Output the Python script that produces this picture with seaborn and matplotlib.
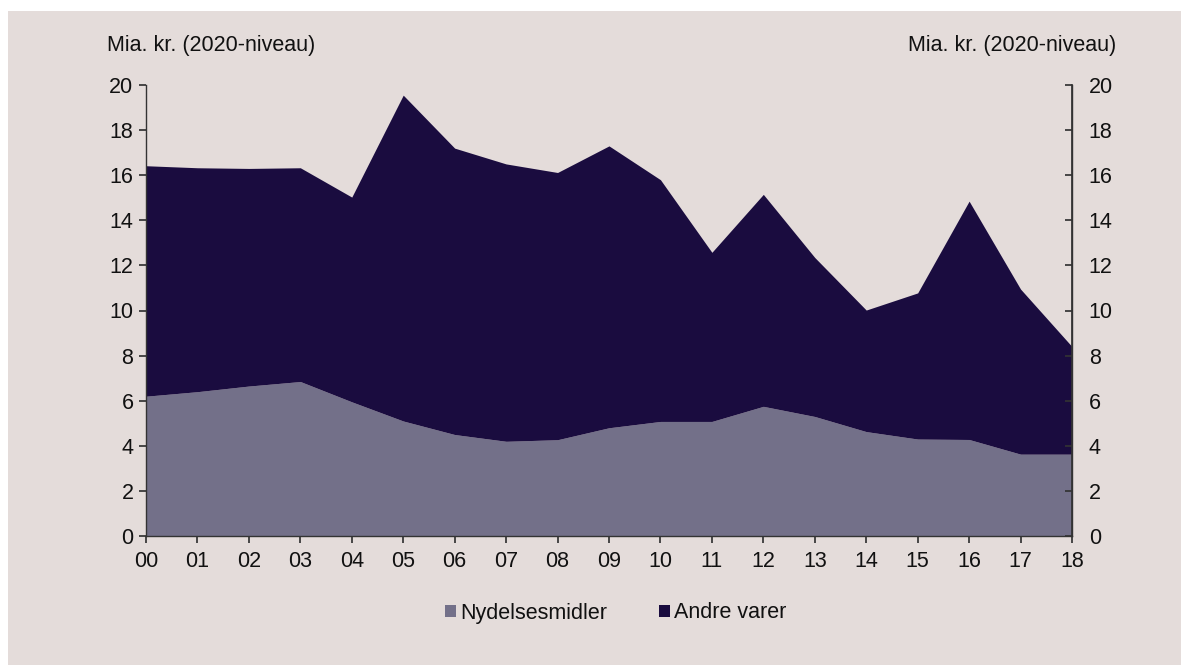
"""
Stacked area: Nydelsesmidler and Andre varer, 2000-2018
"""

from matplotlib import pyplot as plt
from matplotlib.patches import Rectangle
import seaborn as sns

years = ["00", "01", "02", "03", "04", "05", "06", "07", "08", "09",
         "10", "11", "12", "13", "14", "15", "16", "17", "18"]
nydelsesmidler = [6.2, 6.4, 6.65, 6.85, 5.95, 5.1, 4.5, 4.2, 4.27, 4.8,
                  5.08, 5.08, 5.75, 5.3, 4.63, 4.3, 4.28, 3.63, 3.63]
total = [16.42, 16.33, 16.3, 16.33, 15.03, 19.55, 17.2, 16.5, 16.12, 17.3,
         15.8, 12.58, 15.15, 12.35, 10.02, 10.78, 14.85, 10.95, 8.4]
andre_varer = [t - n for t, n in zip(total, nydelsesmidler)]

BG = "#e4dcda"
C_NYD = "#737089"
C_ANDRE = "#1a0c3f"
FS = 15.5

sns.set_theme(style="ticks")
plt.rcParams["font.family"] = ["Liberation Sans", "DejaVu Sans"]

fig = plt.figure(figsize=(11.81, 6.65), dpi=100, facecolor="white")
fig.patches.append(Rectangle((8 / 1181, 0), 1, 1 - 11 / 665,
                             transform=fig.transFigure, facecolor=BG,
                             edgecolor="none", zorder=-10))
ax = fig.add_axes([146 / 1181, 1 - 536 / 665, 926 / 1181, 451 / 665])
ax.set_facecolor(BG)

x = list(range(len(years)))
ax.stackplot(x, nydelsesmidler, andre_varer, colors=[C_NYD, C_ANDRE],
             labels=["Nydelsesmidler", "Andre varer"], linewidth=0)

ax.set_xlim(0, len(years) - 1)
ax.set_ylim(0, 20)
ax.set_xticks(x)
ax.set_xticklabels(years)
ax.set_yticks(range(0, 21, 2))

for side in ["left", "right", "bottom"]:
    ax.spines[side].set_color("#333333")
    ax.spines[side].set_linewidth(1.0)
ax.spines["top"].set_visible(False)
ax.tick_params(axis="both", labelsize=FS, color="#333333", length=5,
               direction="out", labelcolor="#111111")
ax.tick_params(axis="x", pad=6)
ax.tick_params(axis="y", pad=4)

ax2 = ax.twinx()
ax2.set_ylim(0, 20)
ax2.set_yticks(range(0, 21, 2))
ax2.tick_params(axis="y", labelsize=FS, color="#333333", length=5,
                direction="in", pad=12, labelcolor="#111111")
for side in ["left", "top", "bottom"]:
    ax2.spines[side].set_visible(False)
ax2.spines["right"].set_color("#333333")

fig.text(107 / 1181, 1 - 46 / 665, "Mia. kr. (2020-niveau)", fontsize=FS,
         ha="left", va="center", color="#111111")
fig.text(1116 / 1181, 1 - 46 / 665, "Mia. kr. (2020-niveau)", fontsize=FS,
         ha="right", va="center", color="#111111")

handles, labels = ax.get_legend_handles_labels()
leg = fig.legend(handles, labels, loc="center",
                 bbox_to_anchor=(616 / 1181, 1 - 613 / 665),
                 ncol=2, frameon=False, fontsize=FS, handlelength=0.5,
                 handleheight=0.5, handletextpad=0.2, columnspacing=2.4)
for t in leg.get_texts():
    t.set_color("#111111")

fig.savefig("out.png", dpi=100, facecolor=fig.get_facecolor())
